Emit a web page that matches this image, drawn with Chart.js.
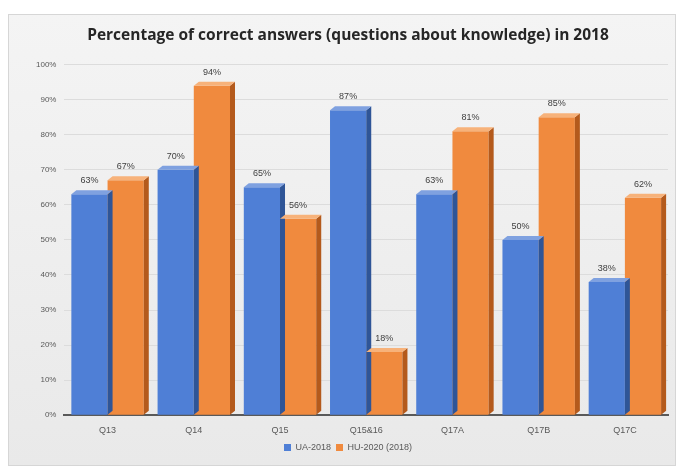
<!DOCTYPE html>
<html>
<head>
<meta charset="utf-8">
<title>Percentage of correct answers</title>
<script src="https://cdn.jsdelivr.net/npm/chart.js@4"></script>
<style>
  html, body { margin: 0; padding: 0; background: #ffffff; }
  #wrap { position: relative; width: 684px; height: 474px; }
</style>
</head>
<body>
<div id="wrap"><canvas id="barChart" width="684" height="474"></canvas></div>
<script>
const questions = ["Q13", "Q14", "Q15", "Q15&16", "Q17A", "Q17B", "Q17C"];
const ua2018 = [63, 70, 65, 87, 63, 50, 38];
const hu2020 = [67, 94, 56, 18, 81, 85, 62];
const seriesNames = ["UA-2018", "HU-2020 (2018)"];

// gray panel behind the whole chart
const panel = {
  id: "panel",
  beforeDraw(chart) {
    const c = chart.ctx;
    c.save();
    const g = c.createLinearGradient(0, 14, 0, 466);
    g.addColorStop(0, "#f4f4f4");
    g.addColorStop(1, "#e9e9e9");
    c.fillStyle = g;
    c.fillRect(8, 14, 668, 452);
    c.strokeStyle = "#d6d6d6";
    c.strokeRect(8.5, 14.5, 667, 451);
    c.restore();
  }
};

// side and top faces to give the bars some depth, plus value labels
const depth = {
  id: "depth",
  afterDatasetsDraw(chart) {
    const c = chart.ctx;
    const dx = 5, dy = 4;
    const sides = ["#2f5597", "#b45a1c"];
    const tops = ["#7fa1e0", "#f7b27a"];
    c.save();
    chart.data.datasets.forEach((ds, i) => {
      chart.getDatasetMeta(i).data.forEach((bar) => {
        const half = bar.width / 2;
        const r = bar.x + half, l = bar.x - half;
        c.fillStyle = sides[i];
        c.beginPath();
        c.moveTo(r, bar.y);
        c.lineTo(r + dx, bar.y - dy);
        c.lineTo(r + dx, bar.base - dy);
        c.lineTo(r, bar.base);
        c.closePath();
        c.fill();
        c.fillStyle = tops[i];
        c.beginPath();
        c.moveTo(l, bar.y);
        c.lineTo(l + dx, bar.y - dy);
        c.lineTo(r + dx, bar.y - dy);
        c.lineTo(r, bar.y);
        c.closePath();
        c.fill();
      });
    });
    c.font = "9px 'Liberation Sans', sans-serif";
    c.fillStyle = "#404040";
    c.textAlign = "center";
    c.textBaseline = "bottom";
    chart.data.datasets.forEach((ds, i) => {
      chart.getDatasetMeta(i).data.forEach((bar, j) => {
        c.fillText(ds.data[j] + "%", bar.x, bar.y - dy - 5);
      });
    });
    c.restore();
  }
};

const ctz = document.getElementById("barChart");
const canvas = ctz.getContext("2d");

const barChart = new Chart(canvas, {
  type: "bar",
  data: {
    labels: questions,
    datasets: [
      {
        label: seriesNames[0],
        data: ua2018,
        backgroundColor: "#4f7fd6",
        borderWidth: 0,
      },
      {
        label: seriesNames[1],
        data: hu2020,
        backgroundColor: "#f08a3e",
        borderWidth: 0,
      },
    ],
  },
  options: {
    responsive: false,
    animation: false,
    layout: { padding: { left: 28, right: 16, top: 24, bottom: 12 } },
    datasets: { bar: { categoryPercentage: 0.84, barPercentage: 1.0 } },
    plugins: {
      title: {
        display: true,
        text: "Percentage of correct answers (questions about knowledge) in 2018",
        color: "#262626",
        font: { family: "'Open Sans', sans-serif", size: 15.5, weight: "bold" },
        padding: { top: 2, bottom: 20 },
      },
      legend: {
        position: "bottom",
        labels: {
          boxWidth: 7,
          boxHeight: 7,
          padding: 5,
          color: "#595959",
          font: { family: "'Liberation Sans', sans-serif", size: 9 },
        },
      },
      tooltip: { enabled: false },
    },
    scales: {
      x: {
        grid: { display: false },
        border: { color: "#595959", width: 2 },
        ticks: { padding: 2, color: "#595959", font: { family: "'Liberation Sans', sans-serif", size: 9 } },
      },
      y: {
        min: 0,
        max: 100,
        grid: { color: "#dcdcdc", drawTicks: false },
        border: { display: false },
        ticks: {
          stepSize: 10,
          padding: 8,
          color: "#595959",
          font: { family: "'Liberation Sans', sans-serif", size: 8 },
          callback: (v) => v + "%",
        },
      },
    },
  },
  plugins: [panel, depth],
});
</script>
</body>
</html>
